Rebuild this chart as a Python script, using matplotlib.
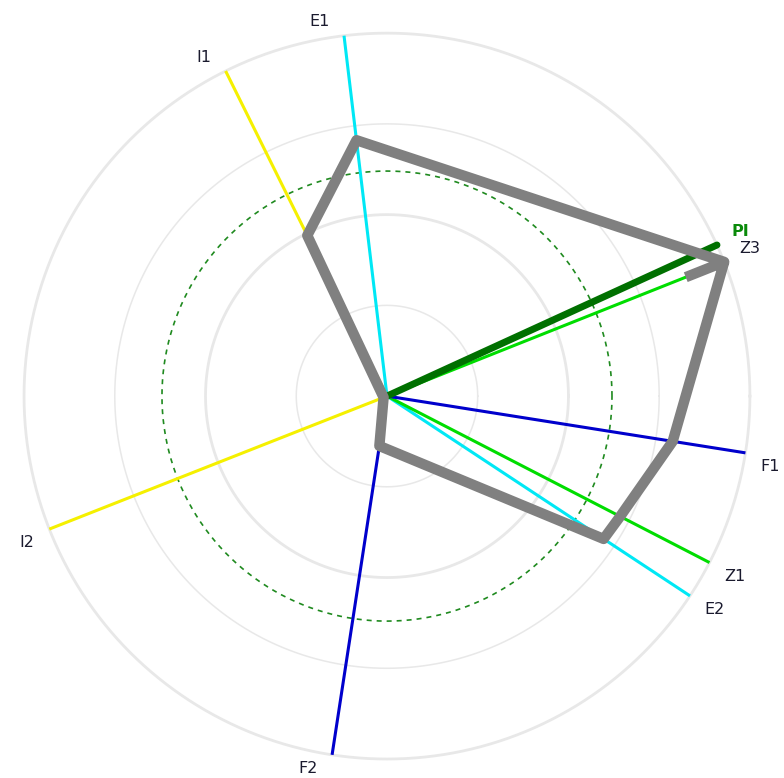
import numpy as np
import matplotlib
matplotlib.use('Agg')
import matplotlib.pyplot as plt

# ---- data ----
axis_names = ['E1', 'I1', 'I2', 'F2', 'E2', 'Z1', 'F1', 'Z3']
axis_angles_deg = [96.8, 116.4, 201.5, 261.3, 326.6, 332.7, 351.0, 21.7]
axis_colors = ['#00e8f5', '#f5f000', '#f5f000', '#0000cc',
               '#00e8f5', '#00dd00', '#0000cc', '#00dd00']
profile_values = [71.0, 49.4, 1.0, 13.9, 71.5, 72.3, 79.7, 100.0]
z3_stub_value = 88.6
pi_angle_deg = 24.6
pi_value = 100.0
pi_label = 'PI'
grid_levels = [25, 50, 75, 100]
grid_widths = [1.1, 2.0, 1.1, 2.0]
threshold_level = 62.0
r_max = 100.0

fig = plt.figure(figsize=(7.84, 7.78), dpi=100)
ax = fig.add_axes([0.0306, 0.0244, 0.926, 0.933], projection='polar')
ax.set_ylim(0, r_max)
ax.set_xticks([])
ax.set_yticks([])
ax.grid(False)
ax.spines['polar'].set_visible(False)
ax.set_facecolor('white')

full = np.linspace(0, 2 * np.pi, 721)
for lvl, lw in zip(grid_levels, grid_widths):
    ax.plot(full, np.full_like(full, lvl), color='#e8e8e8', lw=lw, zorder=1,
            clip_on=False)

ax.plot(full, np.full_like(full, threshold_level), color='#1f8a1f', lw=1.2,
        linestyle=(0, (3, 3)), zorder=2)

theta = np.deg2rad(axis_angles_deg)
for t, c in zip(theta, axis_colors):
    ax.plot([t, t], [0, r_max], color=c, lw=2.2, solid_capstyle='butt',
            zorder=3, clip_on=False)

pi_t = np.deg2rad(pi_angle_deg)
ax.plot([pi_t, pi_t], [0, pi_value], color='#007000', lw=5.0,
        solid_capstyle='round', zorder=4, clip_on=False)

# profile polygon (starts with short stub along Z3 spoke)
z3_t = theta[-1]
path_t = [z3_t, z3_t] + list(theta)
path_r = [z3_stub_value, profile_values[-1]] + list(profile_values)
ax.plot(path_t, path_r, color='#808080', lw=7.5, solid_joinstyle='round',
        solid_capstyle='butt', zorder=5, clip_on=False)

def put_label(t_deg, r, text, color='#1a1a2e', weight='normal'):
    t = np.deg2rad(t_deg)
    right = np.cos(t) > 0
    upper = np.sin(t) > 0
    dx = 10.5 if right else -10.5
    dy = 4.5 if upper else -4.5
    ax.annotate(text, xy=(t, r), xytext=(dx, dy), textcoords='offset points',
                ha='left' if right else 'right', va='bottom' if upper else 'top',
                fontsize=11.5, color=color, fontweight=weight,
                annotation_clip=False, zorder=6)

for a, n in zip(axis_angles_deg, axis_names):
    put_label(a, r_max, n)
put_label(pi_angle_deg, pi_value, pi_label, color='#0a8a0a', weight='bold')

fig.savefig('out.png', dpi=100, facecolor='white')
